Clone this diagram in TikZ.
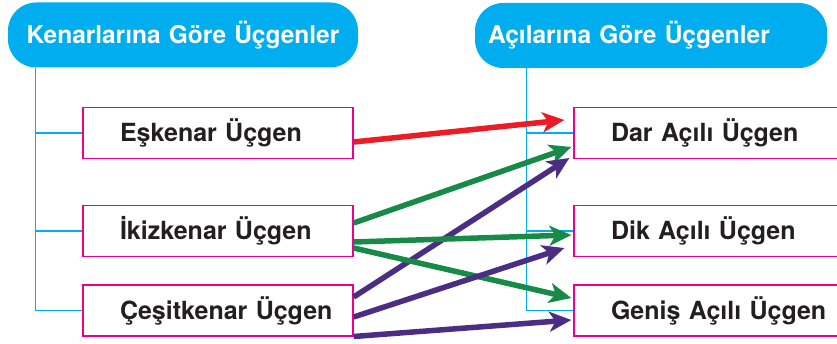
\documentclass[tikz,border=0pt]{standalone}
\usepackage{fontspec}
\setmainfont{TeX Gyre Heros}
\usetikzlibrary{arrows.meta}
\definecolor{cyanc}{HTML}{00AEEF}
\definecolor{magc}{HTML}{EC008C}
\definecolor{redc}{HTML}{ED1C24}
\definecolor{greenc}{HTML}{178A47}
\definecolor{purpc}{HTML}{4B2E83}
\definecolor{txtc}{HTML}{231F20}
\tikzset{
  head/.style={fill=cyanc, rounded corners=28pt, minimum height=65pt, inner sep=0pt,
    text width=#1, text=white, font=\fontsize{24.5}{28}\selectfont\bfseries},
  box/.style={draw=magc, fill=white, line width=1.3pt, minimum height=51pt, inner xsep=0pt, inner ysep=0pt,
    text width=#1, align=left, text=txtc, font=\fontsize{25}{28}\selectfont\bfseries},
  tree/.style={draw=cyanc, line width=1.2pt},
  conn/.style={line width=5.5pt, -{Stealth[length=22pt,width=20pt,inset=6pt]}},
}
\begin{document}
\begin{tikzpicture}[x=1pt,y=-1pt]
\useasboundingbox (0,0) rectangle (837,344);
\node[head=350pt, align=center] (head1) at (183,35) {Kenarlarına Göre Üçgenler};
\node[head=352pt, align=left] (head2) at (651,35.5) {\hspace*{13pt}Açılarına Göre Üçgenler};

\coordinate (lt) at ([xshift=28pt]head1.south west);
\coordinate (rt) at ([xshift=52pt]head2.south west);

\node[box=270pt] (esk) at (218,133) {\hspace*{37pt}Eşkenar Üçgen};
\node[box=270pt] (ikiz) at (218,231) {\hspace*{37pt}İkizkenar Üçgen};
\node[box=270pt] (cesit) at (218,310.5) {\hspace*{37pt}Çeşitkenar Üçgen};
\node[box=286pt] (dar) at (717,133) {\hspace*{37pt}Dar Açılı Üçgen};
\node[box=286pt] (dik) at (717,231) {\hspace*{37pt}Dik Açılı Üçgen};
\node[box=286pt] (genis) at (717,310.5) {\hspace*{37pt}Geniş Açılı Üçgen};

\draw[tree] (lt) |- (cesit.west);
\draw[tree] (lt |- esk.west) -- (esk.west);
\draw[tree] (lt |- ikiz.west) -- (ikiz.west);
\draw[tree] (rt) |- (genis.west);
\draw[tree] (rt |- dar.west) -- (dar.west);
\draw[tree] (rt |- dik.west) -- (dik.west);

\draw[conn, redc] ([yshift=-9pt]esk.east) -- ([shift={(-9pt,13pt)}]dar.west);
\draw[conn, greenc] ([yshift=8pt]ikiz.east) -- ([shift={(-2pt,-14pt)}]dar.west);
\draw[conn, purpc] ([yshift=13.5pt]cesit.east) -- ([shift={(-4pt,-25pt)}]dar.west);
\draw[conn, greenc] ([yshift=-11pt]ikiz.east) -- ([shift={(-2pt,-4pt)}]dik.west);
\draw[conn, greenc] ([yshift=-17pt]ikiz.east) -- ([shift={(-2pt,12.5pt)}]genis.west);
\draw[conn, purpc] ([yshift=-6.5pt]cesit.east) -- ([shift={(-9pt,-17pt)}]dik.west);
\draw[conn, purpc] ([yshift=-26pt]cesit.east) -- ([shift={(-2pt,-9.5pt)}]genis.west);
\end{tikzpicture}
\end{document}
